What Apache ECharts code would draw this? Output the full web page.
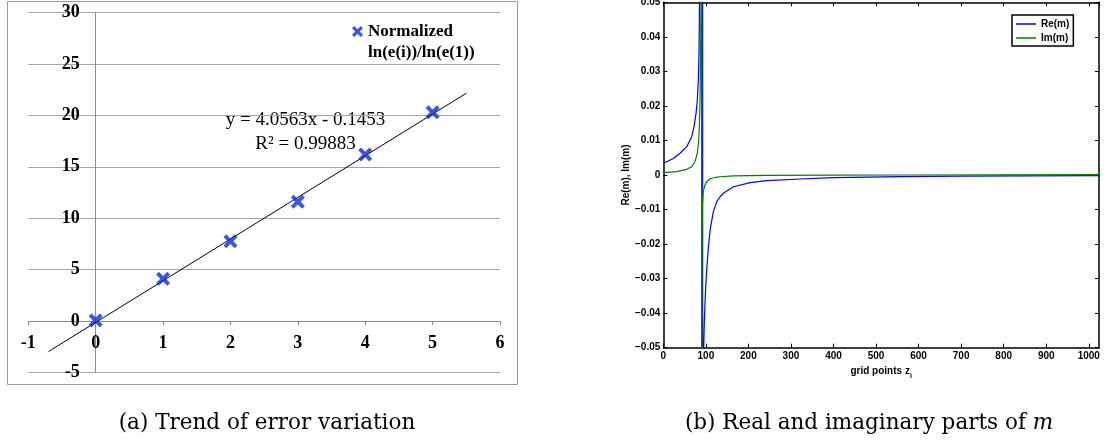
<!DOCTYPE html>
<html><head><meta charset="utf-8">
<script src="https://cdn.jsdelivr.net/npm/echarts/dist/echarts.min.js"></script>
<style>html,body{margin:0;padding:0;background:#fff}#c{width:1105px;height:441px}</style>
</head><body><div id="c"></div>
<script>
// (a) error trend data
const errX = [0, 1, 2, 3, 4, 5];
const errY = [0.05, 4.1, 7.75, 11.6, 16.2, 20.3];
const trendX = [-0.7, 5.5];
const trendY = [-2.98, 22.16];
const errXTicks = [-1, 0, 1, 2, 3, 4, 5, 6];
const errYTicks = [-5, 0, 5, 10, 15, 20, 25, 30];
const errLegend = 'Normalized ln(e(i))/ln(e(1))';
const eqLine1 = 'y = 4.0563x - 0.1453';
const eqLine2 = 'R² = 0.99883';

// (b) real and imaginary parts of m
const reX = [0, 23.5, 39.3, 55, 66.8, 72.2, 77, 80, 82.4, 84, 84.7, 85.2, 88, 91, 92.4, 92.6, 94, 95, 96.5, 98, 99.7, 102, 106, 110, 117.6, 125.6, 133.4, 141, 165, 204, 243, 322, 400, 557, 700, 850, 1024];
const reY = [0.0034, 0.0048, 0.0063, 0.0082, 0.0111, 0.014, 0.0179, 0.0217, 0.0275, 0.0362, 0.0449, 0.052, 0.09, 0.2, 0.8, -0.8, -0.09, -0.0497, -0.042, -0.0371, -0.0323, -0.0275, -0.0208, -0.0159, -0.0106, -0.0077, -0.0063, -0.0053, -0.0034, -0.0022, -0.00165, -0.00116, -0.00077, -0.00048, -0.00035, -0.00027, -0.0002];
const imX = [0, 31.5, 55, 66.8, 74.6, 80, 83.3, 84.7, 86.4, 87.2, 88, 88.7, 89.5, 89.9, 90.1, 90.6, 91.2, 92, 94, 98, 102, 106, 110, 117.6, 125.6, 133.4, 165, 243, 400, 557, 800, 1024];
const imY = [0.00067, 0.00096, 0.00164, 0.0024, 0.0039, 0.0063, 0.0101, 0.014, 0.0217, 0.0314, 0.041, 0.0507, 0.1, 0.6, -0.6, -0.05, -0.02, -0.0085, -0.0048, -0.0029, -0.0019, -0.0014, -0.0011, -0.0008, -0.0006, -0.0005, -0.00025, -0.00012, -0.00005, 0, 0.00005, 0.0001];
const mXTicks = [0, 100, 200, 300, 400, 500, 600, 700, 800, 900, 1000];
const mYTicks = [-0.05, -0.04, -0.03, -0.02, -0.01, 0, 0.01, 0.02, 0.03, 0.04, 0.05];
const captionA = '(a) Trend of error variation';
const captionB = '(b) Real and imaginary parts of ';

const xPath = 'path://M2,0L5,3L8,0L10,2L7,5L10,8L8,10L5,7L2,10L0,8L3,5L0,2Z';
const zip = (a, b) => a.map((v, i) => [v, b[i]]);
const serifB = {fontFamily: 'Liberation Serif', fontWeight: 'bold', fontSize: 18, color: '#000'};
const sansB = {fontFamily: 'Liberation Sans', fontWeight: 'bold', fontSize: 10, color: '#000'};
const gray = '#8c8c8c';
const fmtM = v => { if (Math.abs(v) < 1e-9) return '0'; return (v < 0 ? '\u2212' : '') + Math.abs(v).toFixed(2); };

// layout of grid (a): axes cross at the origin
const gA = {left: 28.3, top: 12.7, width: 471.7, height: 359.6};
const xMinA = errXTicks[0], xMaxA = errXTicks[errXTicks.length - 1];
const yMinA = errYTicks[0], yMaxA = errYTicks[errYTicks.length - 1];
const yAxisShift = -(0 - xMinA) / (xMaxA - xMinA) * gA.width;
const xAxisShift = -(0 - yMinA) / (yMaxA - yMinA) * gA.height;

const chart = echarts.init(document.getElementById('c'), null, {renderer: 'canvas'});
chart.setOption({
  animation: false,
  backgroundColor: '#fff',
  grid: [
    Object.assign({outerBoundsMode: 'none', containLabel: false}, gA),
    {left: 663.3, top: 2.3, width: 435.7, height: 345.4, outerBoundsMode: 'none', containLabel: false}
  ],
  xAxis: [
    {gridIndex: 0, type: 'value', min: xMinA, max: xMaxA, interval: 1, position: 'bottom', offset: xAxisShift,
      axisLine: {show: true, onZero: false, lineStyle: {color: gray, width: 1}},
      axisTick: {show: true, length: 4, lineStyle: {color: gray}},
      axisLabel: Object.assign({margin: 13}, serifB),
      splitLine: {show: false}},
    {gridIndex: 1, type: 'value', min: 0, max: 1024, interval: 100, position: 'bottom',
      name: '{a|grid points z}{s|i}', nameLocation: 'middle', nameGap: 14,
      nameTextStyle: {rich: {a: Object.assign({}, sansB), s: Object.assign({}, sansB, {fontSize: 7, padding: [8, 0, 0, 0]})}},
      axisLine: {show: true, onZero: false, lineStyle: {color: '#000', width: 1.5}},
      axisTick: {show: true, inside: true, length: 4, lineStyle: {color: '#000', width: 1}},
      axisLabel: Object.assign({margin: 4, showMaxLabel: false, formatter: v => String(v)}, sansB),
      splitLine: {show: false}},
    {gridIndex: 1, type: 'value', min: 0, max: 1024, interval: 100, position: 'top',
      axisLine: {show: true, onZero: false, lineStyle: {color: '#000', width: 1.5}},
      axisTick: {show: true, inside: true, length: 4, lineStyle: {color: '#000', width: 1}},
      axisLabel: {show: false}, splitLine: {show: false}}
  ],
  yAxis: [
    {gridIndex: 0, type: 'value', min: yMinA, max: yMaxA, interval: 5, position: 'left', offset: yAxisShift,
      axisLine: {show: true, onZero: false, lineStyle: {color: gray, width: 1}},
      axisTick: {show: false},
      axisLabel: Object.assign({margin: 16}, serifB),
      splitLine: {show: true, lineStyle: {color: '#a6a6a6', width: 1}}},
    {gridIndex: 1, type: 'value', min: -0.05, max: 0.05, interval: 0.01, position: 'left',
      name: 'Re(m), Im(m)', nameLocation: 'middle', nameGap: 31, nameTextStyle: Object.assign({}, sansB),
      axisLine: {show: true, onZero: false, lineStyle: {color: '#000', width: 1.5}},
      axisTick: {show: true, inside: true, length: 4, lineStyle: {color: '#000', width: 1}},
      axisLabel: Object.assign({margin: 3, formatter: fmtM}, sansB),
      splitLine: {show: false}},
    {gridIndex: 1, type: 'value', min: -0.05, max: 0.05, interval: 0.01, position: 'right',
      axisLine: {show: true, onZero: false, lineStyle: {color: '#000', width: 1.5}},
      axisTick: {show: true, inside: true, length: 4, lineStyle: {color: '#000', width: 1}},
      axisLabel: {show: false}, splitLine: {show: false}}
  ],
  legend: [
    {left: 352, top: 0, padding: 0, itemWidth: 11, itemHeight: 11,
      data: [{name: errLegend, icon: xPath}],
      formatter: () => '\nNormalized\nln(e(i))/ln(e(1))',
      textStyle: {fontFamily: 'Liberation Serif', fontWeight: 'bold', fontSize: 17, color: '#000', lineHeight: 21}},
    {left: 1012, top: 15, orient: 'vertical', padding: [2, 4, 1, 4], itemWidth: 20, itemHeight: 1.5, itemGap: 0,
      borderColor: '#000', borderWidth: 1.5, backgroundColor: '#fff',
      data: [{name: 'Re(m)', icon: 'rect'}, {name: 'Im(m)', icon: 'rect'}],
      textStyle: Object.assign({lineHeight: 14}, sansB)}
  ],
  series: [
    {name: 'trend', type: 'line', xAxisIndex: 0, yAxisIndex: 0, data: zip(trendX, trendY),
      symbol: 'none', lineStyle: {color: '#000', width: 1}, itemStyle: {color: '#000'}, z: 3},
    {name: errLegend, type: 'scatter', xAxisIndex: 0, yAxisIndex: 0, data: zip(errX, errY),
      symbol: xPath, symbolSize: 14, itemStyle: {color: '#0a2ae0'}, z: 4},
    {name: 'Re(m)', type: 'line', xAxisIndex: 1, yAxisIndex: 1, data: zip(reX, reY),
      symbol: 'none', clip: true, lineStyle: {color: '#0000ff', width: 1.2}, itemStyle: {color: '#0000ff'}},
    {name: 'Im(m)', type: 'line', xAxisIndex: 1, yAxisIndex: 1, data: zip(imX, imY),
      symbol: 'none', clip: true, lineStyle: {color: '#008000', width: 1.2}, itemStyle: {color: '#008000'}}
  ],
  graphic: [
    {type: 'rect', shape: {x: 7.5, y: 1.5, width: 510, height: 383}, style: {fill: 'none', stroke: '#999', lineWidth: 1}, z: -10},
    {type: 'text', x: 305.5, y: 120, style: {text: eqLine1, font: '19px "Liberation Serif"', fill: '#000', align: 'center', verticalAlign: 'middle'}},
    {type: 'text', x: 305.5, y: 144, style: {text: eqLine2, font: '19px "Liberation Serif"', fill: '#000', align: 'center', verticalAlign: 'middle'}},
    {type: 'text', x: 267, y: 423, style: {text: captionA, font: '21.5px "DejaVu Serif"', fill: '#000', align: 'center', verticalAlign: 'middle'}},
    {type: 'text', x: 869, y: 423, style: {text: '{r|' + captionB + '}{i|m}', align: 'center', verticalAlign: 'middle',
      rich: {r: {font: '21.5px "DejaVu Serif"', fill: '#000'}, i: {font: 'italic 21.5px "DejaVu Serif"', fill: '#000'}}}}
  ]
});
</script></body></html>
